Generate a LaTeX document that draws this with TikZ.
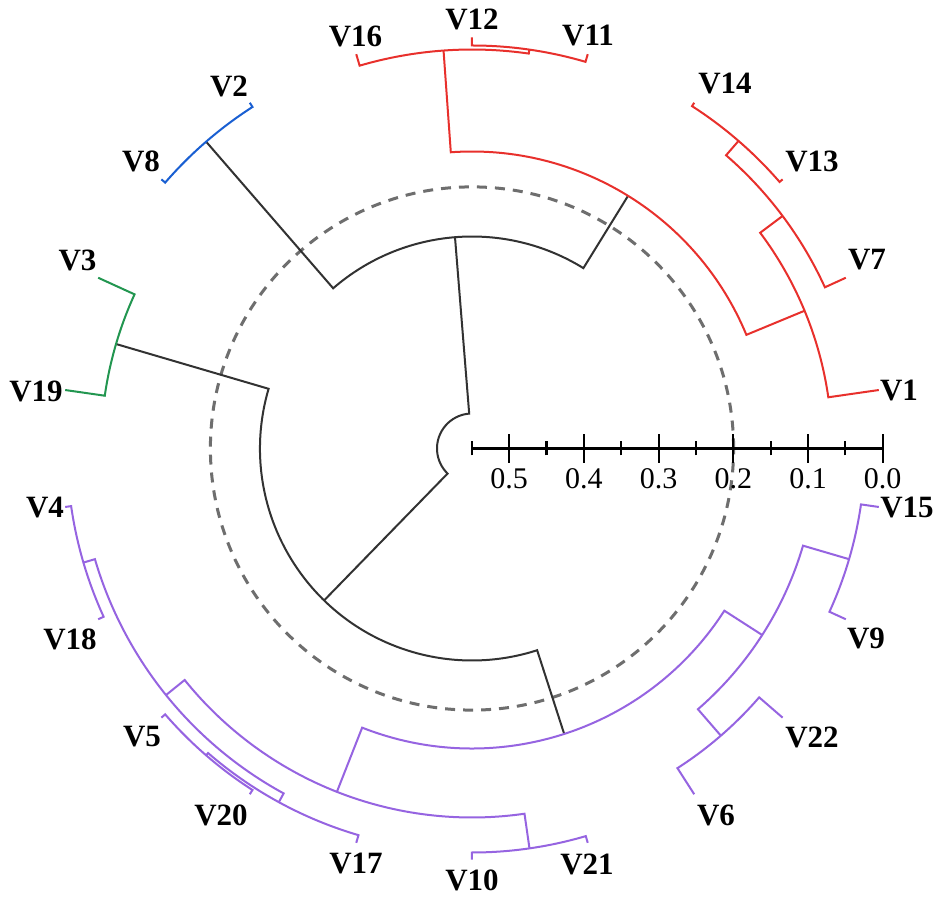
\documentclass[tikz,border=0pt]{standalone}
\usepackage{fontspec}
\setmainfont{Liberation Serif}
\definecolor{cred}{RGB}{232,48,44}
\definecolor{cblue}{RGB}{25,95,210}
\definecolor{cgreen}{RGB}{34,150,80}
\definecolor{cpurple}{RGB}{150,100,225}
\definecolor{cdark}{RGB}{50,50,50}
\definecolor{cdash}{RGB}{110,110,110}
\newcommand\clade[6]{\draw[br,#1] (#3:#4) -- (#3:#2) arc[start angle=#3,end angle=#5,radius=#2] -- (#5:#6);}
\begin{document}
\begin{tikzpicture}[x=1pt,y=1pt,
  br/.style={line width=2pt,line join=miter},
  leaf/.style={font=\fontsize{31}{31}\selectfont\bfseries,inner sep=0pt,anchor=center},
  scl/.style={font=\fontsize{30}{30}\selectfont,inner sep=0pt,anchor=center},
  bar/.style={line width=2.6pt,black},
  tick/.style={line width=2.2pt,black}]
\useasboundingbox (-472,-450.5) rectangle (471,448.5);
\fill[white] (-472,-450.5) rectangle (471,448.5);
% dashed reference circle (height 0.2)
\draw[cdash,line width=3pt,dash pattern=on 10pt off 8pt] (0,0) circle[radius=261.6];
% black backbone
\clade{cdark}{212}{130.91}{406}{58.3}{297}
\clade{cdark}{212}{163.64}{371}{287.9}{300}
\clade{cdark}{35}{94.6}{212}{225.77}{212}
% red cluster
\clade{cred}{403}{90}{411}{73.64}{411}
\clade{cred}{399}{106.36}{411}{81.82}{403}
\clade{cred}{407}{57.27}{411}{40.91}{411}
\clade{cred}{388}{49.09}{407}{24.55}{411}
\clade{cred}{360}{36.82}{388}{8.18}{411}
\clade{cred}{297}{94.09}{399}{22.5}{360}
% blue cluster
\clade{cblue}{406}{122.73}{411}{139.09}{411}
% green cluster
\clade{cgreen}{371}{155.45}{411}{171.82}{411}
% purple cluster
\clade{cpurple}{405}{188.18}{411}{204.55}{411}
\clade{cpurple}{406}{220.91}{411}{237.27}{411}
\clade{cpurple}{403}{229.09}{406}{253.64}{411}
\clade{cpurple}{393}{196.36}{405}{241.36}{403}
\clade{cpurple}{404}{270}{411}{286.36}{411}
\clade{cpurple}{369}{218.86}{393}{278.18}{404}
\clade{cpurple}{380}{302.73}{411}{319.09}{411}
\clade{cpurple}{393}{335.45}{411}{351.82}{411}
\clade{cpurple}{345}{310.91}{380}{343.64}{393}
\clade{cpurple}{300}{248.52}{369}{327.27}{345}
% scale bar
\coordinate (s0) at (0,0);
\coordinate (s1) at (411,0);
\draw[bar] (s0) -- (s1);
\draw[tick] (0,-7) -- (0,7);
\foreach \x in {410.7,336,261.3,186.6,111.9,37.2} \draw[tick] (\x,-14.5) -- (\x,14.5);
\foreach \x in {373.3,298.6,223.9,149.2,74.5} \draw[tick] (\x,-7) -- (\x,7);
\node[scl] (t5) at (37.2,-30.7) {0.5};
\node[scl] (t4) at (111.9,-30.7) {0.4};
\node[scl] (t3) at (186.6,-30.7) {0.3};
\node[scl] (t2) at (261.3,-30.7) {0.2};
\node[scl] (t1) at (336,-30.7) {0.1};
\node[scl] (t0) at (410.7,-30.7) {0.0};
% leaf labels
\node[leaf] (V16) at (-116.5,412.5) {V16};
\node[leaf] (V12) at (0,429) {V12};
\node[leaf] (V11) at (116,412.5) {V11};
\node[leaf] (V14) at (253,364.5) {V14};
\node[leaf] (V13) at (340,287.5) {V13};
\node[leaf] (V7) at (395,188.5) {V7};
\node[leaf] (V1) at (427,57.5) {V1};
\node[leaf] (V2) at (-243,362.5) {V2};
\node[leaf] (V8) at (-331,287.5) {V8};
\node[leaf] (V3) at (-394.5,188.5) {V3};
\node[leaf] (V19) at (-436,57.5) {V19};
\node[leaf] (V4) at (-427,-59.5) {V4};
\node[leaf] (V18) at (-402,-190.5) {V18};
\node[leaf] (V5) at (-330,-288.5) {V5};
\node[leaf] (V20) at (-251,-366.5) {V20};
\node[leaf] (V17) at (-116,-415.5) {V17};
\node[leaf] (V10) at (0,-431.5) {V10};
\node[leaf] (V21) at (115,-415.5) {V21};
\node[leaf] (V15) at (435,-59.5) {V15};
\node[leaf] (V9) at (394,-189.5) {V9};
\node[leaf] (V22) at (340,-288.5) {V22};
\node[leaf] (V6) at (244,-366.5) {V6};
\end{tikzpicture}
\end{document}
